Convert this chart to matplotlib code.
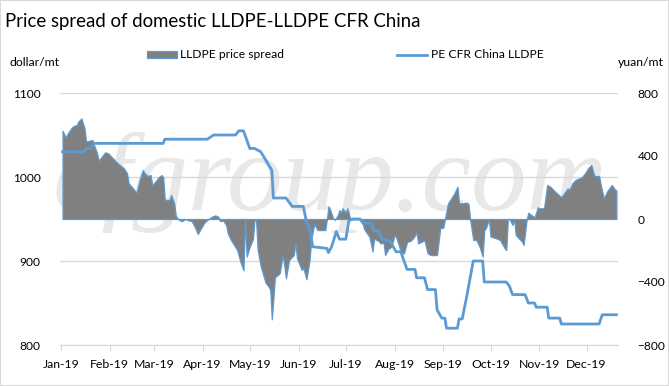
import numpy as np
import matplotlib
matplotlib.use("Agg")
import matplotlib.pyplot as plt
import matplotlib.dates as mdates
from matplotlib.patches import Patch, Rectangle
from matplotlib.lines import Line2D

plt.rcParams['font.family'] = ['Lato', 'DejaVu Sans']

# day of year 2019 (0 = Jan 1) and values
spread_day = [1, 3, 5, 7, 8, 10, 11, 13, 15, 16, 18, 20, 21, 23, 24, 26, 28, 30, 33, 36,
              40, 42, 43, 45, 48, 50, 52, 53, 55, 57, 58, 60, 62, 64, 65, 66, 69, 70, 72, 73,
              75, 77, 79, 81, 83, 85, 87, 89, 91, 93, 96, 98, 100, 101, 103, 105, 106, 108, 112, 114,
              116, 117, 118, 120, 122, 123, 124, 125, 127, 130, 132, 133, 134, 136, 139, 141, 143, 145, 148, 149,
              150, 153, 154, 156, 158, 159, 161, 163, 168, 169, 170, 171, 173, 174, 176, 177, 178, 179, 181, 182,
              184, 187, 189, 191, 193, 196, 198, 199, 202, 203, 205, 206, 208, 210, 212, 213, 215, 216, 218, 220,
              222, 224, 226, 227, 229, 231, 233, 235, 239, 240, 241, 243, 244, 246, 248, 250, 252, 253, 255, 258,
              259, 260, 262, 264, 266, 268, 269, 270, 272, 273, 276, 279, 282, 283, 284, 285, 287, 288, 289, 291,
              293, 294, 296, 297, 299, 301, 303, 304, 307, 309, 311, 314, 318, 320, 322, 323, 325, 327, 331, 333,
              335, 337, 339, 342, 343, 345, 347, 350, 352, 353]
spread_val = [560, 519, 554, 582, 590, 597, 618, 639, 576, 491, 497, 502, 470, 417, 370, 396, 423, 417, 385, 354,
              322, 290, 227, 205, 167, 248, 311, 294, 273, 279, 216, 237, 265, 279, 265, 121, 121, 152, 100, 19,
              -6, -13, 0, -8, -13, -49, -95, -59, -25, -6, 15, 23, 15, -13, -10, -38, -91, -133, -197, -271,
              -326, 0, -239, -176, -127, -10, -8, -197, -303, -404, -430, -451, -637, -370, -345, -229, -377, -260, -229, -150,
              -250, -324, -310, -383, -260, -133, -30, -70, -70, 0, 80, 60, 4, -5, 25, 57, 40, 68, 40, 68,
              -5, 0, 0, -10, -70, -112, -207, -125, -140, -155, -150, -229, -190, -176, -101, -115, -176, -218, -218, -144,
              -140, -120, -87, -155, -145, -135, -218, -229, -229, -144, -59, -55, 0, 100, 131, 163, 205, 100, 100, 104,
              95, 0, -133, -133, -176, -239, -70, -60, 0, -112, -120, -133, -186, -197, 0, 0, -38, 0, -101, -123,
              -144, -165, 0, 40, 25, 11, 74, 68, 68, 216, 205, 174, 138, 167, 195, 184, 227, 248, 265, 290,
              322, 343, 273, 273, 216, 131, 174, 216, 188, 180]

cfr_day = [1, 15, 16, 19, 21, 65, 66, 93, 97, 111, 113, 116, 120, 123, 127, 134, 135, 143, 147, 154,
           156, 158, 160, 169, 170, 172, 175, 177, 181, 183, 185, 190, 192, 197, 199, 202, 204, 209, 213, 216,
           218, 220, 225, 226, 231, 233, 238, 239, 242, 244, 245, 252, 253, 255, 258, 262, 268, 269, 283, 285,
           287, 295, 297, 301, 302, 309, 310, 317, 318, 342, 344, 353]
cfr_val = [1030, 1030, 1034, 1034, 1040, 1040, 1045, 1045, 1050, 1050, 1055, 1055, 1034, 1034, 1030, 1008, 975, 975, 965, 965,
           947, 939, 917, 915, 910, 917, 935, 926, 926, 948, 950, 950, 945, 945, 936, 936, 926, 924, 911, 911,
           900, 890, 890, 880, 880, 866, 866, 842, 832, 832, 820, 820, 831, 831, 859, 900, 900, 875, 875, 870,
           860, 860, 850, 850, 845, 845, 832, 832, 825, 825, 836, 836]

base = np.datetime64('2019-01-01')
spread_dates = base + np.array(spread_day).astype('timedelta64[D]')
cfr_dates = base + np.array(cfr_day).astype('timedelta64[D]')

blue = '#5B9BD5'
grey = '#808080'
gridc = '#D9D9D9'

fig = plt.figure(figsize=(6.69, 3.86), dpi=100)
fig.patches.append(Rectangle((0, 0), 1, 1, transform=fig.transFigure, fill=False,
                             edgecolor='#D9D9D9', lw=1.5))

ax = fig.add_axes([60 / 669, 41 / 386, 558 / 669, 252 / 386])
x0 = mdates.date2num(base)
ax.set_xlim(x0 - 0.6, x0 + 354)
ax.set_ylim(800, 1100)
ax.set_yticks([800, 900, 1000, 1100])
ax.grid(axis='y', color=gridc, lw=1)
ax.set_axisbelow(True)
for s in ['top', 'left', 'right']:
    ax.spines[s].set_visible(False)
ax.spines['bottom'].set_color(gridc)
ax.tick_params(axis='y', length=0, labelsize=8.6, pad=14)
ax.tick_params(axis='x', length=4, color=gridc, labelsize=8.8, pad=6)
ax.xaxis.set_major_locator(mdates.MonthLocator())
ax.xaxis.set_major_formatter(mdates.DateFormatter('%b-%y'))

# faint watermark behind the marks
ax.text(330 / 669, 1 - 210 / 386, 'cfgroup.com', transform=fig.transFigure, ha='center',
        va='baseline', fontsize=80, family='Liberation Serif', style='italic',
        color='#E8E8E8', zorder=0.5, clip_on=False)

ax2 = ax.twinx()
ax2.set_ylim(-800, 800)
ax2.set_yticks([-800, -400, 0, 400, 800])
for s in ax2.spines.values():
    s.set_visible(False)
ax2.tick_params(axis='y', length=0, labelsize=8.6, pad=14)
ax2.fill_between(spread_dates, spread_val, 0, facecolor=grey, edgecolor=blue, lw=0.9)

ax3 = ax.twinx()
ax3.set_ylim(800, 1100)
ax3.axis('off')
ax3.plot(cfr_dates, cfr_val, color=blue, lw=2.0)
ax3.set_xlim(ax.get_xlim())
ax2.set_xlim(ax.get_xlim())

fig.text(5 / 669, 1 - 22 / 386, 'Price spread of domestic LLDPE-LLDPE CFR China',
         fontsize=13.4, va='center', ha='left')
fig.text(9 / 669, 1 - 62 / 386, 'dollar/mt', fontsize=8.8, va='center', ha='left')
fig.text(664 / 669, 1 - 62 / 386, 'yuan/mt', fontsize=8.8, va='center', ha='right')

handles = [Patch(facecolor=grey, edgecolor=blue, lw=0.9),
           Line2D([], [], color=blue, lw=2.0)]
fig.legend(handles, ['LLDPE price spread', 'PE CFR China LLDPE'], ncol=2,
           loc='center', bbox_to_anchor=(345 / 669, 1 - 55 / 386), frameon=False,
           fontsize=8.7, handlelength=2.5, handleheight=0.5, handletextpad=0.3,
           columnspacing=9.3)

fig.savefig('out.png', dpi=100)
